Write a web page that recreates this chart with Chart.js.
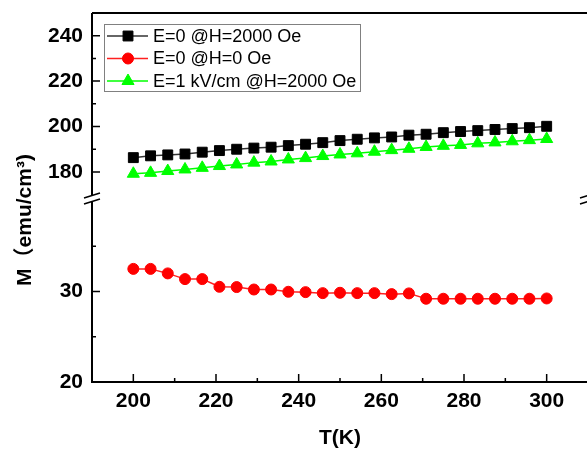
<!DOCTYPE html>
<html>
<head>
<meta charset="utf-8">
<script src="https://cdn.jsdelivr.net/npm/chart.js@4.4.0/dist/chart.umd.min.js"></script>
<style>
  html, body { margin: 0; padding: 0; overflow: hidden; background: #fff; }
  canvas { display: block; }
</style>
</head>
<body>
<canvas id="chart" width="600" height="450"></canvas>
<script>
// Temperature (K)
const temps = [200, 204.17, 208.33, 212.5, 216.67, 220.83, 225, 229.17, 233.33, 237.5, 241.67, 245.83, 250,
  254.17, 258.33, 262.5, 266.67, 270.83, 275, 279.17, 283.33, 287.5, 291.67, 295.83, 300];

// M (emu/cm3) for each curve
const mE0H2000 = [186.3, 187.1, 187.5, 187.9, 188.7, 189.4, 190.0, 190.5, 190.9, 191.6, 192.2, 192.9, 193.8,
  194.4, 195.0, 195.4, 196.2, 196.6, 197.3, 197.8, 198.2, 198.7, 199.1, 199.5, 200.1];
const mE0H0 = [32.5, 32.5, 32.0, 31.37, 31.37, 30.52, 30.49, 30.22, 30.22, 29.97, 29.93, 29.82, 29.86,
  29.82, 29.82, 29.71, 29.79, 29.2, 29.2, 29.2, 29.2, 29.2, 29.2, 29.2, 29.23];
const mE1H2000 = [179.2, 179.6, 180.4, 181.1, 181.8, 182.6, 183.3, 184.1, 184.6, 185.5, 186.1, 187.0, 187.7,
  188.2, 188.9, 189.6, 190.2, 191.0, 191.5, 191.9, 192.6, 193.0, 193.5, 194.0, 194.5];

const seriesLabels = ['E=0 @H=2000 Oe', 'E=0 @H=0 Oe', 'E=1 kV/cm @H=2000 Oe'];

// Tick labels and minor ticks
const xTicks = [200, 220, 240, 260, 280, 300];
const xMinor = [210, 230, 250, 270, 290];
const upperTicks = [180, 200, 220, 240];
const upperMinor = [190, 210, 230];
const lowerTicks = [20, 30];
const lowerMinor = [25, 35];

const FONT = "'Liberation Sans', Arial, sans-serif";

function points(ys) {
  return temps.map((t, i) => ({ x: t, y: ys[i] }));
}

function fixTicks(list) {
  return function(scale) {
    scale.ticks = list.map(v => ({ value: v }));
  };
}

// fixed axis box, no extra padding for edge labels
function fitY(scale) {
  scale.width = 92;
  scale.paddingTop = 0;
  scale.paddingBottom = 0;
}

// Frame, inside ticks, axis break, titles and legend box
const framePlugin = {
  id: 'frame',
  afterDraw(chart) {
    const ctx = chart.ctx;
    const ca = chart.chartArea;
    const x = chart.scales.x;
    const yTop = chart.scales.yTop;
    const yBot = chart.scales.yBot;
    const gapTop = yTop.bottom - 6;
    const gapBot = yBot.top;

    ctx.save();
    ctx.strokeStyle = '#000';
    ctx.lineWidth = 2;
    ctx.beginPath();
    // top and bottom
    ctx.moveTo(ca.left, ca.top); ctx.lineTo(ca.right, ca.top);
    ctx.moveTo(ca.left - 1, ca.bottom); ctx.lineTo(ca.right, ca.bottom);
    // left and right, broken
    [ca.left, ca.right].forEach(px => {
      ctx.moveTo(px, ca.top); ctx.lineTo(px, gapTop);
      ctx.moveTo(px, gapBot); ctx.lineTo(px, ca.bottom);
    });
    ctx.stroke();

    // break marks
    ctx.lineWidth = 1.5;
    ctx.beginPath();
    [ca.left, ca.right].forEach(px => {
      ctx.moveTo(px - 8, gapTop + 3); ctx.lineTo(px + 8, gapTop - 2);
      ctx.moveTo(px - 8, gapBot + 3); ctx.lineTo(px + 8, gapBot - 2);
    });
    ctx.stroke();

    // inside ticks
    ctx.lineWidth = 1.5;
    ctx.beginPath();
    xTicks.forEach(v => { const p = x.getPixelForValue(v); ctx.moveTo(p, ca.bottom); ctx.lineTo(p, ca.bottom - 8); });
    xMinor.forEach(v => { const p = x.getPixelForValue(v); ctx.moveTo(p, ca.bottom); ctx.lineTo(p, ca.bottom - 4); });
    upperTicks.forEach(v => { const p = yTop.getPixelForValue(v); ctx.moveTo(ca.left, p); ctx.lineTo(ca.left + 8, p); });
    upperMinor.forEach(v => { const p = yTop.getPixelForValue(v); ctx.moveTo(ca.left, p); ctx.lineTo(ca.left + 4, p); });
    lowerTicks.forEach(v => { const p = yBot.getPixelForValue(v); ctx.moveTo(ca.left, p); ctx.lineTo(ca.left + 8, p); });
    lowerMinor.forEach(v => { const p = yBot.getPixelForValue(v); ctx.moveTo(ca.left, p); ctx.lineTo(ca.left + 4, p); });
    ctx.stroke();

    // axis titles
    ctx.fillStyle = '#000';
    ctx.font = "bold 21px " + FONT;
    ctx.textAlign = 'center';
    ctx.textBaseline = 'middle';
    ctx.fillText('T(K)', (ca.left + ca.right) / 2, 438);
    ctx.save();
    ctx.translate(25, 220);
    ctx.rotate(-Math.PI / 2);
    ctx.font = "bold 21px " + FONT + ", 'Noto Sans CJK SC'";
    ctx.fillText('M（emu/cm³)', 0, 0);
    ctx.restore();

    // legend
    ctx.lineWidth = 1;
    ctx.strokeStyle = '#808080';
    ctx.strokeRect(104.5, 24.5, 256, 67);
    ctx.font = "18px " + FONT;
    ctx.textAlign = 'left';
    chart.data.datasets.forEach((ds, i) => {
      const cy = 36 + i * 22.5;
      ctx.strokeStyle = ds.borderColor;
      ctx.lineWidth = ds.borderWidth;
      ctx.beginPath(); ctx.moveTo(107, cy); ctx.lineTo(148, cy); ctx.stroke();
      ctx.fillStyle = ds.pointBackgroundColor;
      ctx.strokeStyle = ds.pointBorderColor;
      ctx.lineWidth = 1;
      Chart.helpers.drawPoint(ctx, { pointStyle: ds.pointStyle, radius: ds.pointRadius, rotation: 0, borderWidth: 1 }, 128, cy);
      ctx.fillStyle = '#000';
      ctx.fillText(ds.label, 153, cy + 1);
    });
    ctx.restore();
  }
};

new Chart(document.getElementById('chart'), {
  type: 'line',
  data: {
    datasets: [
      {
        label: seriesLabels[0], data: points(mE0H2000), yAxisID: 'yTop',
        borderColor: '#333', borderWidth: 1.5,
        pointStyle: 'rect', pointRadius: 7,
        pointBackgroundColor: '#000', pointBorderColor: '#000', pointBorderWidth: 1
      },
      {
        label: seriesLabels[1], data: points(mE0H0), yAxisID: 'yBot',
        borderColor: '#ff2020', borderWidth: 1.5,
        pointStyle: 'circle', pointRadius: 5.5,
        pointBackgroundColor: '#ff0000', pointBorderColor: '#ff0000', pointBorderWidth: 1
      },
      {
        label: seriesLabels[2], data: points(mE1H2000), yAxisID: 'yTop',
        borderColor: '#00ff00', borderWidth: 1.5,
        pointStyle: 'triangle', pointRadius: 7,
        pointBackgroundColor: '#00ff00', pointBorderColor: '#00ff00', pointBorderWidth: 1
      }
    ]
  },
  options: {
    responsive: false,
    animation: false,
    layout: { padding: { top: 13, right: 12, left: 0, bottom: 0 } },
    plugins: { legend: { display: false }, tooltip: { enabled: false } },
    scales: {
      x: {
        type: 'linear', position: 'bottom', min: 190, max: 310,
        afterBuildTicks: fixTicks(xTicks),
        afterFit(scale) { scale.height = 68; scale.paddingLeft = 0; scale.paddingRight = 0; },
        grid: { display: false, drawTicks: false },
        border: { display: false },
        ticks: { padding: 7, color: '#000', maxRotation: 0, font: { family: FONT, size: 21, weight: 'bold' } }
      },
      yBot: {
        type: 'linear', position: 'left', stack: 'm', stackWeight: 181, min: 20, max: 40,
        afterBuildTicks: fixTicks(lowerTicks),
        afterFit: fitY,
        grid: { display: false, drawTicks: false },
        border: { display: false },
        ticks: { padding: 9, color: '#000', font: { family: FONT, size: 21, weight: 'bold' } }
      },
      yTop: {
        type: 'linear', position: 'left', stack: 'm', stackWeight: 188, min: 167.2, max: 250,
        afterBuildTicks: fixTicks(upperTicks),
        afterFit: fitY,
        grid: { display: false, drawTicks: false },
        border: { display: false },
        ticks: { padding: 9, color: '#000', font: { family: FONT, size: 21, weight: 'bold' } }
      }
    }
  },
  plugins: [framePlugin]
});
</script>
</body>
</html>
